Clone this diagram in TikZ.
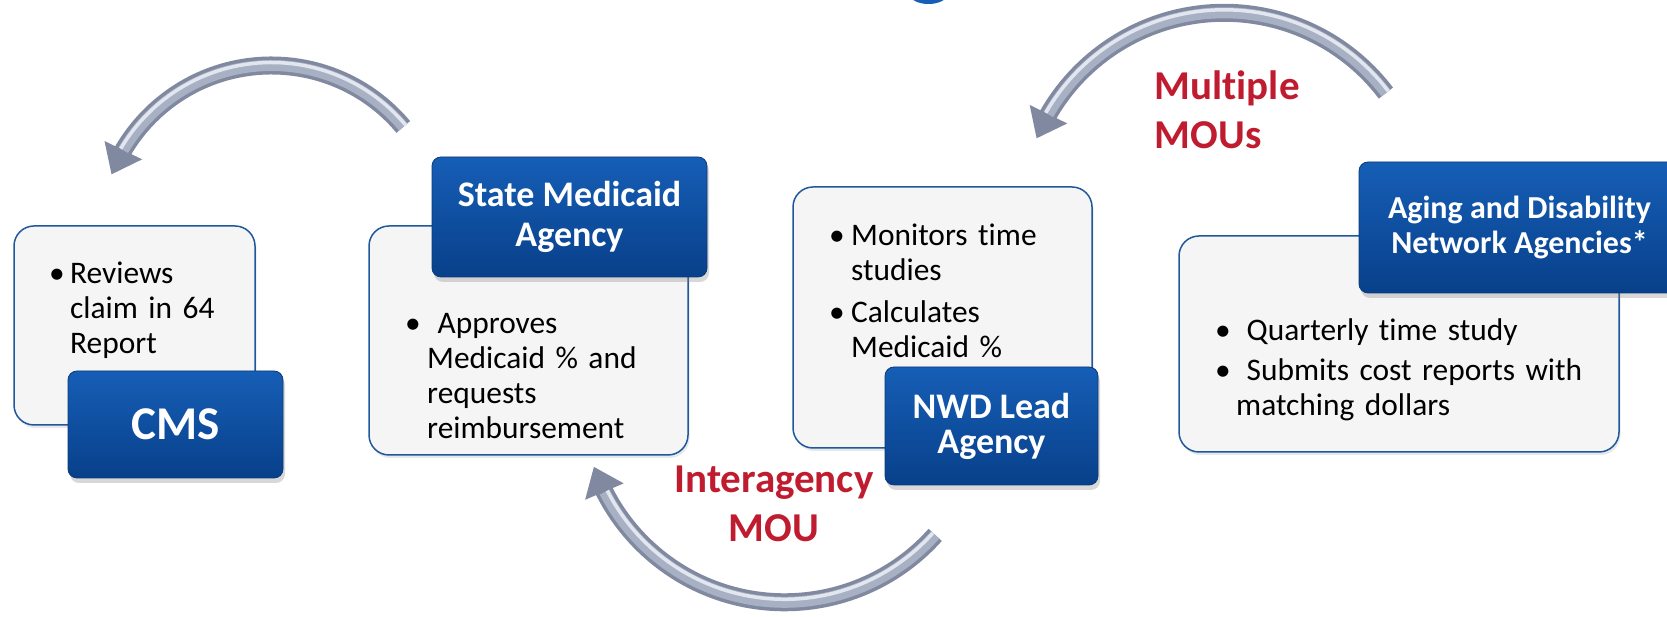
\documentclass[tikz,border=0pt]{standalone}
\usepackage{fontspec}
\setmainfont{Carlito}[Ligatures=NoCommon]
\usetikzlibrary{arrows.meta,bending,shadows}
\definecolor{bluetop}{RGB}{22,94,182}
\definecolor{bluebot}{RGB}{8,64,138}
\definecolor{blueedge}{RGB}{10,58,120}
\definecolor{boxfill}{RGB}{245,245,245}
\definecolor{boxedge}{RGB}{32,88,158}
\definecolor{mouRed}{RGB}{192,28,48}
\definecolor{arrDark}{RGB}{128,137,160}
\definecolor{arrMid}{RGB}{168,176,196}
\definecolor{arrLight}{RGB}{226,230,239}
\newlength\bind
\newcommand\bitem[1]{\hangindent=\bind\hangafter=1\relax\noindent\makebox[\bind][l]{\textbullet}#1\par}
\begin{document}
\begin{tikzpicture}[x=1pt,y=1pt,
 graybox/.style={draw=boxedge,line width=1.5pt,fill=boxfill,rounded corners=20pt,inner sep=0pt,
   drop shadow={shadow xshift=1.5pt,shadow yshift=-3pt,opacity=0.18}},
 bluebox/.style={draw=blueedge,line width=0.8pt,top color=bluetop,bottom color=bluebot,rounded corners=9pt,
   text=white,align=center,inner sep=0pt,
   drop shadow={shadow xshift=2pt,shadow yshift=-5pt,opacity=0.3}},
 listtext/.style={anchor=north west,inner sep=0pt,font=\fontsize{31.4}{35}\selectfont},
 redtext/.style={text=mouRed,inner sep=0pt,font=\fontsize{41}{49}\selectfont\bfseries},
 band/.style={line width=18pt,draw=arrDark,-{Triangle[length=27pt,width=40pt]}},
 bandmid/.style={line width=11pt,draw=arrMid},
 bandhi/.style={line width=3.5pt,draw=arrLight},
]
\useasboundingbox (0,0) rectangle (1667,617);
\clip (0,0) rectangle (1667,617);
\fill[white] (0,0) rectangle (1667,617);

% cut-off title glyph at top
\fill[bluetop] (928.5,623) ellipse[x radius=19,y radius=10];

% gray boxes
\node[graybox,minimum width=241pt,minimum height=199pt] (cmsbg) at (134.5,291.5) {};
\node[graybox,minimum width=319pt,minimum height=229pt] (smabg) at (528.5,276.5) {};
\node[graybox,minimum width=299pt,minimum height=261pt] (nwdbg) at (942.5,299.5) {};
\node[graybox,minimum width=440pt,minimum height=216pt] (adbg) at (1399,273) {};

% bullet texts
\node[listtext,text width=200pt] (cmslist) at (49,358.5)
  {\raggedright\setlength\bind{21pt}\bitem{\strut Reviews\newline claim in 64\newline Report}};
\node[listtext,text width=280pt] (smalist) at (405,308.5)
  {\raggedright\setlength\bind{22pt}\bitem{\strut\ Approves\newline Medicaid \% and\newline requests\newline reimbursement}};
\node[listtext,text width=260pt] (nwdlist) at (829,396.5)
  {\raggedright\setlength\bind{22pt}\setlength\parskip{7pt}\bitem{\strut Monitors time\newline studies}\bitem{Calculates\newline Medicaid \%}};
\node[listtext,text width=420pt] (adlist) at (1215,301.5)
  {\raggedright\setlength\bind{21pt}\setlength\parskip{5pt}\bitem{\strut\ Quarterly time study}\bitem{\ Submits cost reports with\newline matching dollars}};

% blue title boxes
\node[bluebox,minimum width=215pt,minimum height=107pt,font=\fontsize{47}{52}\selectfont\bfseries] (cms) at (175.5,192.5) {CMS};
\node[bluebox,minimum width=275pt,minimum height=120pt,font=\fontsize{36}{40}\selectfont\bfseries] (sma) at (569.5,400) {State Medicaid\\Agency};
\node[bluebox,minimum width=213pt,minimum height=118pt,font=\fontsize{36}{35}\selectfont\bfseries] (nwd) at (991.5,191) {NWD Lead\\Agency};
\node[bluebox,minimum width=321pt,minimum height=131pt,font=\fontsize{32}{35}\selectfont\bfseries] (ad) at (1519.5,389.5) {Aging and Disability\\Network Agencies*};

% red labels
\node[redtext,align=center] (intermou) at (774,112.7) {Interagency\\MOU};
\node[redtext,align=left,anchor=west] (multimou) at (1154.5,507.2) {Multiple\\MOUs};

% curved arrows
\coordinate (c1) at (271.5,379.5);
\coordinate (tlS) at ([shift={(40:172)}]c1);
\draw[band] (tlS) arc[start angle=40,end angle=158.5,radius=172];
\draw[bandmid] (tlS) arc[start angle=40,end angle=149.5,radius=172];
\draw[bandhi] ([shift={(40:175)}]c1) arc[start angle=40,end angle=149.5,radius=175];

\coordinate (c2) at (784.6,216.7);
\coordinate (bS) at ([shift={(-41.8:202)}]c2);
\draw[band] (bS) arc[start angle=-41.8,end angle=-160.8,radius=202];
\draw[bandmid] (bS) arc[start angle=-41.8,end angle=-153,radius=202];
\draw[bandhi] ([shift={(-41.8:199)}]c2) arc[start angle=-41.8,end angle=-153,radius=199];

\coordinate (c3) at (1224.2,401.2);
\coordinate (trS) at ([shift={(37.2:203)}]c3);
\draw[band] (trS) arc[start angle=37.2,end angle=157.6,radius=203];
\draw[bandmid] (trS) arc[start angle=37.2,end angle=150,radius=203];
\draw[bandhi] ([shift={(37.2:206)}]c3) arc[start angle=37.2,end angle=150,radius=206];
\end{tikzpicture}
\end{document}
